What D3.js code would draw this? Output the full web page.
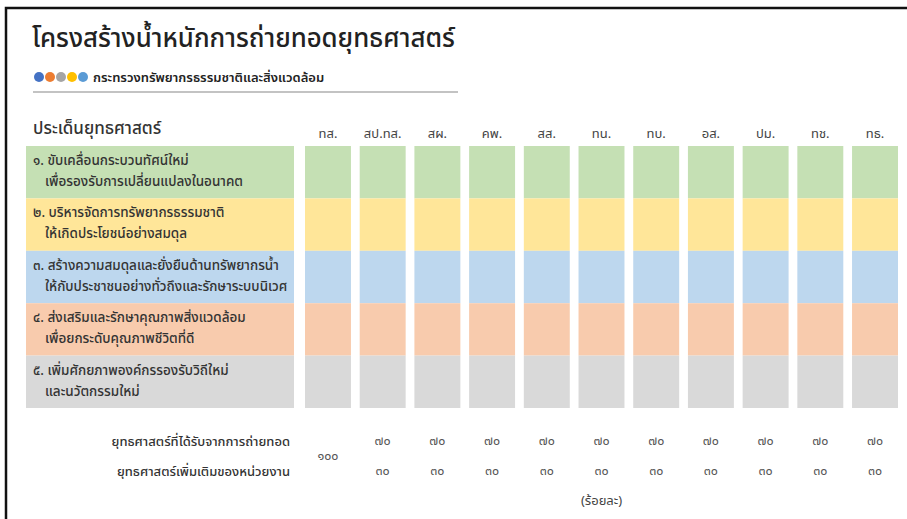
<!doctype html>
<head>
  <meta charset="utf-8">
  <script src="https://cdnjs.cloudflare.com/ajax/libs/d3/7.8.2/d3.min.js"></script>
</head>
<style>
    body { margin: 0; background: white; }
    svg { display: block; font-family: "Noto Sans Thai", "Noto Sans Thai UI", "Noto Sans", sans-serif; }
</style>
<body>
    <div id="chart"></div>
    <script>
        // Datos
        const agencies = ["ทส.", "สป.ทส.", "สผ.", "คพ.", "สส.", "ทน.", "ทบ.", "อส.", "ปม.", "ทช.", "ทธ."];
        const strategyIds = ["s1", "s2", "s3", "s4", "s5"];
        const strategyLines = [
            ["๑. ขับเคลื่อนกระบวนทัศน์ใหม่", "เพื่อรองรับการเปลี่ยนแปลงในอนาคต"],
            ["๒. บริหารจัดการทรัพยากรธรรมชาติ", "ให้เกิดประโยชน์อย่างสมดุล"],
            ["๓. สร้างความสมดุลและยั่งยืนด้านทรัพยากรน้ำ", "ให้กับประชาชนอย่างทั่วถึงและรักษาระบบนิเวศ"],
            ["๔. ส่งเสริมและรักษาคุณภาพสิ่งแวดล้อม", "เพื่อยกระดับคุณภาพชีวิตที่ดี"],
            ["๕. เพิ่มศักยภาพองค์กรรองรับวิถีใหม่", "และนวัตกรรมใหม่"],
        ];
        const received = [100, 70, 70, 70, 70, 70, 70, 70, 70, 70, 70];
        const additional = [null, 30, 30, 30, 30, 30, 30, 30, 30, 30, 30];
        const rowLabels = ["ยุทธศาสตร์ที่ได้รับจากการถ่ายทอด", "ยุทธศาสตร์เพิ่มเติมของหน่วยงาน"];

        const thaiDigits = (v) => String(v).replace(/\d/g, (d) => "๐๑๒๓๔๕๖๗๘๙"[d]);

        const width = 907, height = 519;
        const svg = d3.select("#chart").append("svg")
            .attr("width", width)
            .attr("height", height);

        // Marco
        svg.append("path")
            .attr("d", `M6,${height} V8 H${width}`)
            .attr("fill", "none")
            .attr("stroke", "#111")
            .attr("stroke-width", 2.5);

        // Título
        svg.append("text")
            .attr("x", 32).attr("y", 47)
            .attr("font-size", 25.8)
            .attr("font-weight", 500)
            .attr("fill", "#222")
            .text("โครงสร้างน้ำหนักการถ่ายทอดยุทธศาสตร์");

        const dotColors = ["#4472c4", "#ed7d31", "#a5a5a5", "#ffc000", "#5b9bd5"];
        svg.selectAll(".dot")
            .data(dotColors)
            .enter()
            .append("circle")
            .attr("cx", (d, i) => 39 + i * 11)
            .attr("cy", 77)
            .attr("r", 5)
            .attr("fill", (d) => d);

        svg.append("text")
            .attr("x", 93).attr("y", 82)
            .attr("font-size", 13)
            .attr("font-weight", 600)
            .attr("fill", "#222")
            .text("กระทรวงทรัพยากรธรรมชาติและสิ่งแวดล้อม");

        svg.append("line")
            .attr("x1", 33).attr("x2", 458)
            .attr("y1", 92).attr("y2", 92)
            .attr("stroke", "#888")
            .attr("stroke-width", 1.2);

        // Escalas
        const x = d3.scaleBand()
            .domain(agencies)
            .range([305, 898])
            .paddingInner(0.16)
            .paddingOuter(0);

        const y = d3.scaleBand()
            .domain(strategyIds)
            .range([146, 408])
            .padding(0);

        const color = d3.scaleOrdinal()
            .domain(strategyIds)
            .range(["#c5e0b4", "#ffe699", "#bdd7ee", "#f8cbad", "#d9d9d9"]);

        // Cabecera
        svg.append("text")
            .attr("x", 33).attr("y", 134)
            .attr("font-size", 17)
            .attr("font-weight", 500)
            .attr("fill", "#333")
            .text("ประเด็นยุทธศาสตร์");

        svg.selectAll(".col-label")
            .data(agencies)
            .enter()
            .append("text")
            .attr("x", (d) => x(d) + x.bandwidth() / 2)
            .attr("y", 138)
            .attr("text-anchor", "middle")
            .attr("font-size", 13)
            .attr("fill", "#444")
            .text((d) => d);

        // Filas de estrategias
        const rows = svg.selectAll(".row")
            .data(strategyIds)
            .enter()
            .append("g")
            .attr("transform", (d) => `translate(0,${y(d)})`);

        rows.append("rect")
            .attr("x", 26)
            .attr("width", 294 - 26)
            .attr("height", y.bandwidth())
            .attr("fill", (d) => color(d));

        rows.each(function (d, i) {
            const g = d3.select(this);
            g.append("text")
                .attr("x", 33).attr("y", 19)
                .attr("font-size", 13.5)
                .attr("font-weight", 500)
                .attr("fill", "#333")
                .text(strategyLines[i][0]);
            g.append("text")
                .attr("x", 45).attr("y", 40)
                .attr("font-size", 13.5)
                .attr("font-weight", 500)
                .attr("fill", "#333")
                .text(strategyLines[i][1]);
        });

        rows.selectAll(".cell")
            .data((s) => agencies.map((a) => ({ s, a })))
            .enter()
            .append("rect")
            .attr("x", (d) => x(d.a))
            .attr("width", x.bandwidth())
            .attr("height", y.bandwidth())
            .attr("fill", (d) => color(d.s));

        // Valores
        const rowY = [441, 471];
        svg.selectAll(".row-label")
            .data(rowLabels)
            .enter()
            .append("text")
            .attr("x", 290)
            .attr("y", (d, i) => rowY[i])
            .attr("dy", "0.35em")
            .attr("text-anchor", "end")
            .attr("font-size", 13)
            .attr("font-weight", 500)
            .attr("fill", "#333")
            .text((d) => d);

        const values = agencies.map((a, i) => ({ a, r: received[i], p: additional[i] }));

        svg.selectAll(".v-rec")
            .data(values)
            .enter()
            .append("text")
            .attr("x", (d) => x(d.a) + x.bandwidth() / 2)
            .attr("y", (d) => d.p == null ? (rowY[0] + rowY[1]) / 2 : rowY[0])
            .attr("dy", "0.35em")
            .attr("text-anchor", "middle")
            .attr("font-size", 12.5)
            .attr("fill", "#555")
            .text((d) => thaiDigits(d.r));

        svg.selectAll(".v-add")
            .data(values.filter((d) => d.p != null))
            .enter()
            .append("text")
            .attr("x", (d) => x(d.a) + x.bandwidth() / 2)
            .attr("y", rowY[1])
            .attr("dy", "0.35em")
            .attr("text-anchor", "middle")
            .attr("font-size", 12.5)
            .attr("fill", "#555")
            .text((d) => thaiDigits(d.p));

        svg.append("text")
            .attr("x", x("ทน.") + x.bandwidth() / 2)
            .attr("y", 500)
            .attr("dy", "0.35em")
            .attr("text-anchor", "middle")
            .attr("font-size", 13)
            .attr("fill", "#444")
            .text("(ร้อยละ)");
    </script>
</body>
